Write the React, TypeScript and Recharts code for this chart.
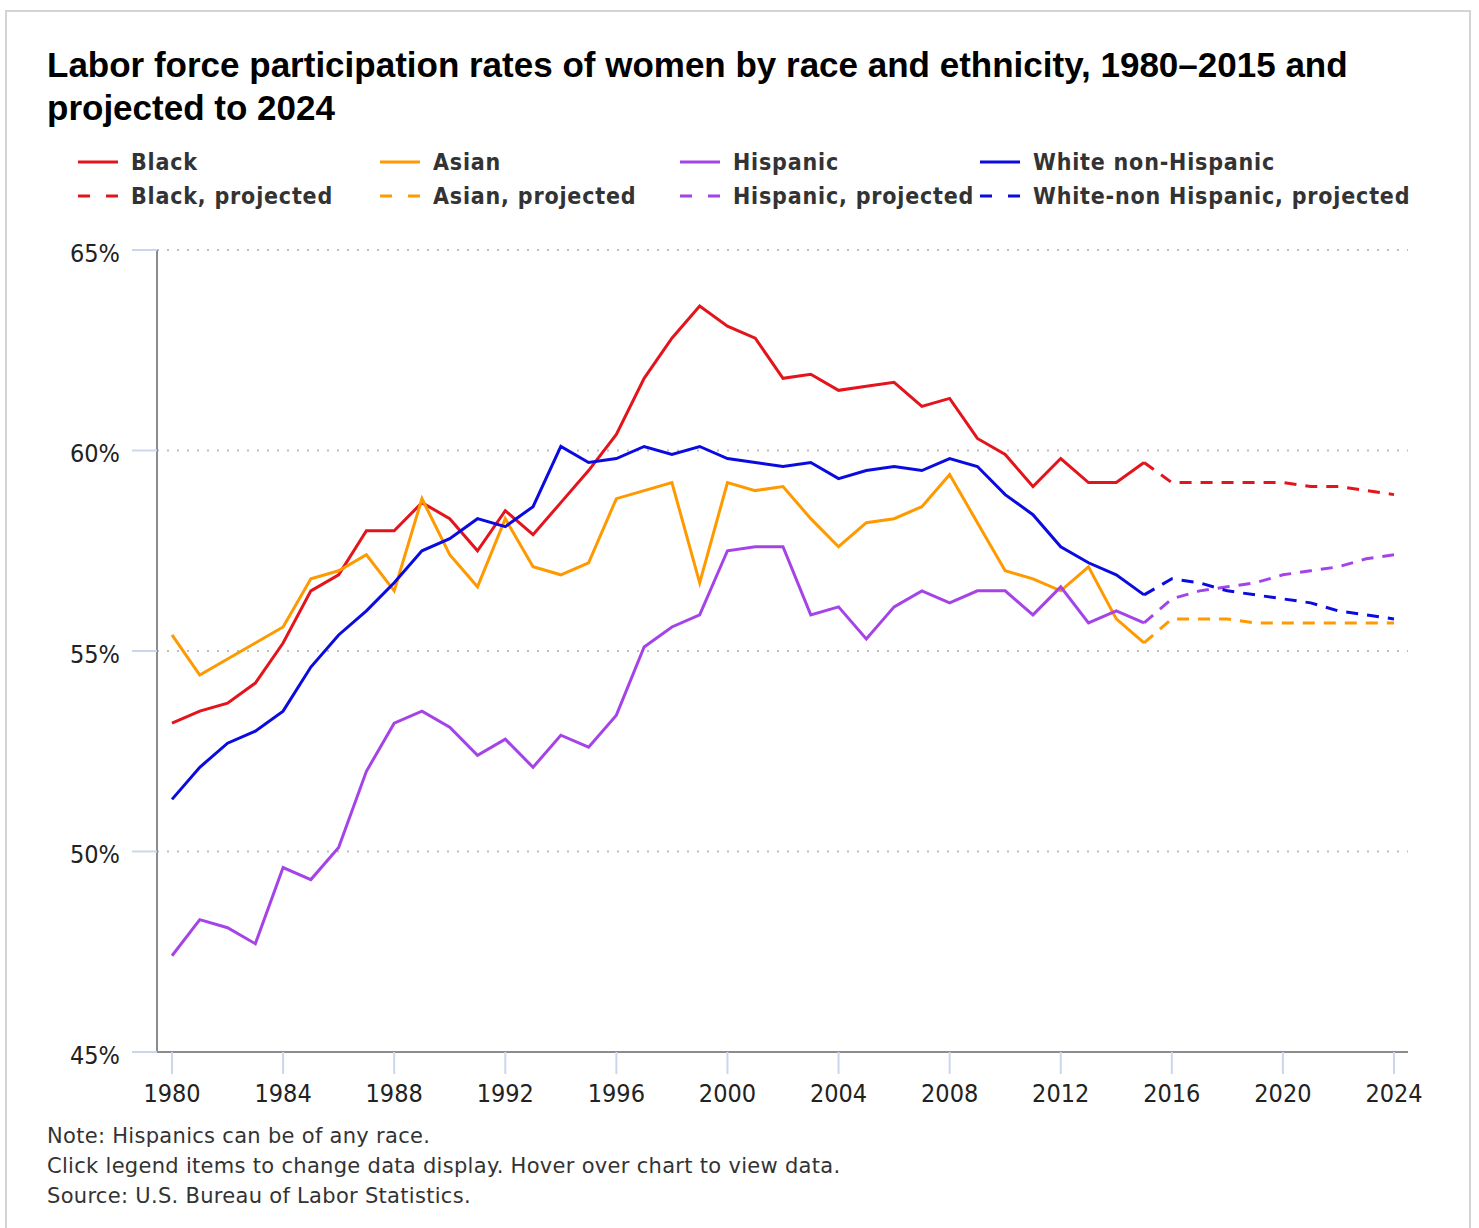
import React from "react";
import { LineChart, Line, XAxis, YAxis, CartesianGrid } from "recharts";

const histYears = [
  1980, 1981, 1982, 1983, 1984, 1985, 1986, 1987, 1988, 1989, 1990, 1991,
  1992, 1993, 1994, 1995, 1996, 1997, 1998, 1999, 2000, 2001, 2002, 2003,
  2004, 2005, 2006, 2007, 2008, 2009, 2010, 2011, 2012, 2013, 2014, 2015,
];
const projYears = [2015, 2016, 2017, 2018, 2019, 2020, 2021, 2022, 2023, 2024];

const black = [
  53.2, 53.5, 53.7, 54.2, 55.2, 56.5, 56.9, 58.0, 58.0, 58.7, 58.3, 57.5,
  58.5, 57.9, 58.7, 59.5, 60.4, 61.8, 62.8, 63.6, 63.1, 62.8, 61.8, 61.9,
  61.5, 61.6, 61.7, 61.1, 61.3, 60.3, 59.9, 59.1, 59.8, 59.2, 59.2, 59.7,
];
const asian = [
  55.4, 54.4, 54.8, 55.2, 55.6, 56.8, 57.0, 57.4, 56.5, 58.8, 57.4, 56.6,
  58.3, 57.1, 56.9, 57.2, 58.8, 59.0, 59.2, 56.7, 59.2, 59.0, 59.1, 58.3,
  57.6, 58.2, 58.3, 58.6, 59.4, 58.2, 57.0, 56.8, 56.5, 57.1, 55.8, 55.2,
];
const hispanic = [
  47.4, 48.3, 48.1, 47.7, 49.6, 49.3, 50.1, 52.0, 53.2, 53.5, 53.1, 52.4,
  52.8, 52.1, 52.9, 52.6, 53.4, 55.1, 55.6, 55.9, 57.5, 57.6, 57.6, 55.9,
  56.1, 55.3, 56.1, 56.5, 56.2, 56.5, 56.5, 55.9, 56.6, 55.7, 56.0, 55.7,
];
const white = [
  51.3, 52.1, 52.7, 53.0, 53.5, 54.6, 55.4, 56.0, 56.7, 57.5, 57.8, 58.3,
  58.1, 58.6, 60.1, 59.7, 59.8, 60.1, 59.9, 60.1, 59.8, 59.7, 59.6, 59.7,
  59.3, 59.5, 59.6, 59.5, 59.8, 59.6, 58.9, 58.4, 57.6, 57.2, 56.9, 56.4,
];

const blackProj = [59.7, 59.2, 59.2, 59.2, 59.2, 59.2, 59.1, 59.1, 59.0, 58.9];
const asianProj = [55.2, 55.8, 55.8, 55.8, 55.7, 55.7, 55.7, 55.7, 55.7, 55.7];
const hispanicProj = [55.7, 56.3, 56.5, 56.6, 56.7, 56.9, 57.0, 57.1, 57.3, 57.4];
const whiteProj = [56.4, 56.8, 56.7, 56.5, 56.4, 56.3, 56.2, 56.0, 55.9, 55.8];

const xTicks = [1980, 1984, 1988, 1992, 1996, 2000, 2004, 2008, 2012, 2016, 2020, 2024];
const yTicks = [45, 50, 55, 60, 65];

const notes = [
  "Note: Hispanics can be of any race.",
  "Click legend items to change data display. Hover over chart to view data.",
  "Source: U.S. Bureau of Labor Statistics.",
];

const series = [
  { key: "black", name: "Black", color: "#e3141c", dashed: false },
  { key: "blackP", name: "Black, projected", color: "#e3141c", dashed: true },
  { key: "asian", name: "Asian", color: "#ff9900", dashed: false },
  { key: "asianP", name: "Asian, projected", color: "#ff9900", dashed: true },
  { key: "hispanic", name: "Hispanic", color: "#a444e8", dashed: false },
  { key: "hispanicP", name: "Hispanic, projected", color: "#a444e8", dashed: true },
  { key: "white", name: "White non-Hispanic", color: "#0b0be0", dashed: false },
  { key: "whiteP", name: "White-non Hispanic, projected", color: "#0b0be0", dashed: true },
];

// one row per year, projected values start at 2015 so the dashes join the solid line
const rows = {};
histYears.forEach((y, i) => {
  rows[y] = { year: y, black: black[i], asian: asian[i], hispanic: hispanic[i], white: white[i] };
});
projYears.forEach((y, i) => {
  rows[y] = {
    ...(rows[y] || { year: y }),
    blackP: blackProj[i],
    asianP: asianProj[i],
    hispanicP: hispanicProj[i],
    whiteP: whiteProj[i],
  };
});
const data = Object.values(rows).sort((a, b) => a.year - b.year);

const FONT = "'DejaVu Sans Condensed', 'DejaVu Sans', sans-serif";
const legendCols = [78, 380, 680, 980];

export default function App() {
  return (
    <div style={{ position: "absolute", left: 0, top: 0, width: 1479, height: 1228, background: "#fff", overflow: "hidden" }}>
      <div
        style={{
          position: "absolute",
          left: 5,
          top: 10,
          width: 1466,
          height: 1240,
          border: "2px solid #d4d4d4",
          boxSizing: "border-box",
        }}
      />
      <div
        style={{
          position: "absolute",
          left: 47,
          top: 43,
          width: 1400,
          fontFamily: "'Liberation Sans', Arial, sans-serif",
          fontWeight: "bold",
          fontSize: 35,
          lineHeight: "43px",
          color: "#000",
          whiteSpace: "nowrap",
        }}
      >
        Labor force participation rates of women by race and ethnicity, 1980–2015 and
        <br />
        projected to 2024
      </div>

      {series.map((s, i) => {
        const col = Math.floor(i / 2);
        const row = i % 2;
        return (
          <div
            key={s.key}
            style={{
              position: "absolute",
              left: legendCols[col],
              top: 147 + row * 34,
              height: 30,
              display: "flex",
              alignItems: "center",
              fontFamily: FONT,
              fontWeight: "bold",
              fontSize: 23,
              letterSpacing: 0.8,
              color: "#333",
              whiteSpace: "nowrap",
            }}
          >
            <svg width={40} height={10} style={{ marginRight: 13 }}>
              <line
                x1={0}
                y1={5}
                x2={40}
                y2={5}
                stroke={s.color}
                strokeWidth={3}
                strokeDasharray={s.dashed ? "12 16" : undefined}
              />
            </svg>
            {s.name}
          </div>
        );
      })}

      <div style={{ position: "absolute", left: 0, top: 0 }}>
        <LineChart
          width={1479}
          height={1228}
          data={data}
          margin={{ top: 250, left: 77, right: 71, bottom: 116 }}
        >
          <CartesianGrid
            vertical={false}
            stroke="#bdbdbd"
            strokeWidth={2}
            strokeDasharray="2 8"
          />
          <XAxis
            dataKey="year"
            type="number"
            domain={[1980, 2024]}
            ticks={xTicks}
            padding={{ left: 15, right: 14 }}
            height={60}
            axisLine={{ stroke: "#8c8c8c", strokeWidth: 2 }}
            tickLine={{ stroke: "#ccd6eb", strokeWidth: 2 }}
            tickSize={22}
            tickMargin={10}
            tick={{ fill: "#222", fontSize: 25, fontFamily: FONT }}
            interval={0}
          />
          <YAxis
            type="number"
            domain={[45, 65]}
            ticks={yTicks}
            width={80}
            axisLine={{ stroke: "#8c8c8c", strokeWidth: 2 }}
            tickLine={{ stroke: "#ccd6eb", strokeWidth: 2 }}
            tickSize={25}
            tickMargin={12}
            tickFormatter={(v) => v + "%"}
            tick={{ fill: "#222", fontSize: 25, fontFamily: FONT, dy: 3 }}
            interval={0}
          />
          {series.map((s) => (
            <Line
              key={s.key}
              dataKey={s.key}
              type="linear"
              stroke={s.color}
              strokeWidth={3}
              strokeDasharray={s.dashed ? "12 9" : undefined}
              dot={false}
              activeDot={false}
              connectNulls={false}
              isAnimationActive={false}
            />
          ))}
        </LineChart>
      </div>

      {notes.map((n, i) => (
        <div
          key={i}
          style={{
            position: "absolute",
            left: 47,
            top: 1124 + i * 30,
            fontFamily: "'DejaVu Sans', sans-serif",
            fontSize: 21,
            letterSpacing: 0.3,
            color: "#333",
            whiteSpace: "nowrap",
          }}
        >
          {n}
        </div>
      ))}
    </div>
  );
}
